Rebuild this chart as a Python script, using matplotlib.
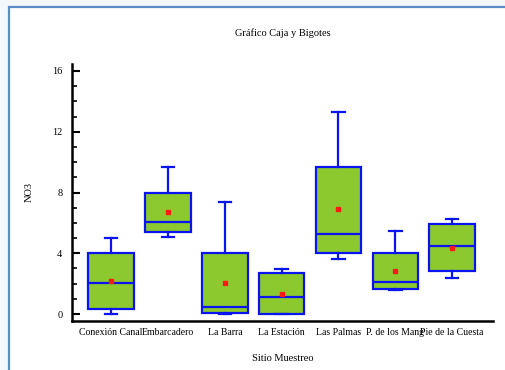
import matplotlib
matplotlib.use("Agg")
import matplotlib.pyplot as plt
from matplotlib.patches import Rectangle
from matplotlib.ticker import MultipleLocator

plt.rcParams['font.family'] = ['Liberation Serif', 'DejaVu Serif']

# NO3 summary per sampling site
sites = ["Conexión Canal", "Embarcadero", "La Barra", "La Estación",
         "Las Palmas", "P. de los Mang", "Pie de la Cuesta"]
whisker_low = [0.00, 5.09, 0.00, 0.00, 3.62, 1.58, 2.39]
q1 = [0.35, 5.38, 0.09, 0.00, 4.02, 1.63, 2.85]
median = [2.02, 6.06, 0.46, 1.12, 5.27, 2.11, 4.50]
q3 = [4.02, 7.97, 4.02, 2.68, 9.70, 4.02, 5.95]
whisker_high = [5.02, 9.70, 7.39, 2.96, 13.28, 5.46, 6.25]
mean = [2.17, 6.69, 2.06, 1.34, 6.89, 2.83, 4.37]

fig = plt.figure(figsize=(5.05, 3.70), dpi=100)
fig.patch.set_facecolor('#f3f8fc')
fig.patches.append(Rectangle((9 / 505, -0.2), 1.2, 1.2 - 7 / 370,
                             transform=fig.transFigure, facecolor='white',
                             edgecolor='#5b8bc8', linewidth=1.6, zorder=-5))

ax = fig.add_axes([72 / 505, 49 / 370, 421 / 505, 257 / 370])
ax.set_facecolor('none')

stats = []
for i, name in enumerate(sites):
    stats.append(dict(label=name, whislo=whisker_low[i], q1=q1[i], med=median[i],
                      q3=q3[i], whishi=whisker_high[i], mean=mean[i], fliers=[]))

blue = '#0a14f0'
ax.bxp(stats, positions=range(len(sites)), widths=0.8, patch_artist=True,
       showmeans=True, showfliers=False,
       boxprops=dict(facecolor='#8cc92f', edgecolor=blue, linewidth=1.6),
       medianprops=dict(color=blue, linewidth=1.6),
       whiskerprops=dict(color=blue, linewidth=1.6),
       capprops=dict(color=blue, linewidth=1.6),
       capwidths=0.22,
       meanprops=dict(marker='s', markerfacecolor='#ff1a1a', markeredgecolor='#ff1a1a',
                      markersize=2.5))

ax.set_xlim(-0.69, 6.72)
ax.set_ylim(-0.46, 16.46)
ax.set_yticks([0, 4, 8, 12, 16])
ax.yaxis.set_minor_locator(MultipleLocator(1))

for s in ['top', 'right']:
    ax.spines[s].set_visible(False)
for s in ['left', 'bottom']:
    ax.spines[s].set_linewidth(1.8)
    ax.spines[s].set_color('black')

ax.tick_params(axis='y', which='major', direction='in', length=6, width=1.5,
               labelsize=7.5, pad=7)
ax.tick_params(axis='y', which='minor', direction='in', length=3.5, width=1.2)
ax.tick_params(axis='x', length=0, labelsize=7, pad=5)
ax.set_xticks(range(len(sites)))
ax.set_xticklabels(sites)

ax.set_title("Gráfico Caja y Bigotes", fontsize=7.5, pad=20)
ax.set_xlabel("Sitio Muestreo", fontsize=7.5, labelpad=12)
ax.set_ylabel("NO3", fontsize=7.5, labelpad=13)

fig.savefig("out.png", dpi=100, facecolor=fig.get_facecolor())
